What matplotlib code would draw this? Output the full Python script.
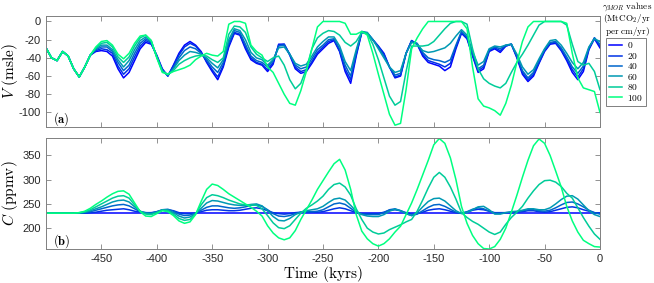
import numpy as np
import matplotlib
matplotlib.use("Agg")
from matplotlib import pyplot as plt

plt.rcParams['mathtext.fontset'] = 'cm'
plt.rcParams['font.family'] = ['Liberation Sans', 'DejaVu Sans']

# tiempo en kyrs (cada 5 kyr)
tiempo = np.arange(-500, 1, 5)

gammas = [0, 20, 40, 60, 80, 100]

inicio = [-29, -40, -43, -33, -38, -52, -61, -50, -37]

V0 = inicio + [-33, -32, -33, -38, -52, -62, -56, -43, -30, -23, -25, -37, -52, -60, -48, -35, -26, -22, -26, -33,
               -45, -55, -64, -50, -28, -13, -15, -30, -42, -46, -48, -55, -47, -25, -25, -37, -52, -57, -55, -46,
               -36, -30, -24, -21, -33, -55, -68, -38, -12, -13, -20, -27, -35, -50, -62, -60, -35, -21, -25, -38,
               -45, -47, -49, -54, -50, -30, -13, -19, -38, -56, -52, -33, -30, -34, -27, -25, -40, -58, -66, -60,
               -46, -33, -25, -24, -32, -43, -56, -64, -55, -31, -19, -29]
V20 = inicio + [-32, -30, -31, -35, -49, -58, -52, -39, -27, -21, -24, -38, -53, -60, -49, -37, -28, -24, -27, -34,
                -44, -53, -61, -48, -26, -12, -14, -28, -40, -45, -47, -53, -45, -26, -25, -36, -50, -55, -53, -44,
                -34, -28, -22, -20, -32, -52, -64, -36, -12, -13, -20, -28, -36, -50, -61, -59, -35, -21, -25, -36,
                -43, -45, -47, -50, -46, -28, -12, -18, -37, -54, -50, -32, -29, -32, -27, -25, -39, -56, -64, -58,
                -45, -32, -24, -23, -31, -41, -53, -61, -52, -30, -18, -27]
V40 = inicio + [-31, -28, -28, -33, -45, -54, -48, -35, -24, -19, -23, -38, -54, -59, -51, -40, -32, -28, -30, -35,
                -42, -50, -56, -45, -23, -10, -12, -25, -38, -43, -45, -50, -43, -27, -26, -36, -48, -52, -50, -41,
                -31, -26, -20, -19, -30, -48, -60, -34, -11, -13, -20, -28, -38, -50, -59, -57, -35, -22, -24, -34,
                -40, -42, -43, -45, -42, -26, -11, -17, -35, -52, -48, -31, -28, -30, -26, -25, -38, -54, -62, -56,
                -43, -31, -23, -22, -29, -39, -50, -57, -49, -29, -18, -25]
V60 = inicio + [-30, -26, -26, -31, -42, -50, -43, -31, -21, -17, -22, -39, -54, -59, -52, -43, -37, -33, -34, -36,
                -40, -46, -51, -42, -20, -8, -10, -20, -34, -40, -42, -48, -42, -29, -28, -36, -46, -49, -47, -38,
                -28, -22, -17, -17, -27, -44, -54, -31, -11, -12, -20, -30, -40, -50, -56, -54, -35, -23, -25, -32,
                -34, -33, -31, -29, -24, -16, -9, -15, -33, -48, -44, -30, -27, -28, -26, -25, -36, -50, -58, -53,
                -41, -30, -21, -20, -26, -35, -45, -52, -45, -28, -19, -22]
V80 = inicio + [-29, -24, -23, -28, -39, -45, -39, -27, -18, -15, -21, -39, -55, -58, -54, -47, -43, -40, -38, -37,
                -38, -42, -45, -40, -14, -5, -6, -12, -28, -36, -40, -44, -40, -38, -48, -64, -74, -68, -52, -30,
                -18, -13, -10, -11, -15, -23, -27, -22, -12, -13, -25, -42, -62, -82, -92, -88, -55, -27, -27, -27,
                -26, -22, -15, -8, -2, 0, 0, -3, -30, -52, -63, -68, -71, -73, -68, -56, -45, -36, -26, -15,
                -4, 0, 0, 0, 0, -4, -25, -44, -48, -46, -55, -75]
V100 = inicio + [-28, -22, -21, -26, -36, -41, -35, -24, -16, -15, -21, -40, -56, -58, -55, -53, -51, -48, -42, -38,
                 -35, -37, -38, -33, -3, 0, 0, -2, -26, -33, -37, -50, -56, -68, -80, -90, -92, -76, -55, -30,
                 -6, 0, 0, 0, 0, -2, -14, -14, -11, -15, -35, -58, -80, -102, -114, -112, -75, -30, -18, -8,
                 0, 0, 0, 0, 0, 0, 0, -8, -50, -85, -93, -95, -98, -103, -90, -70, -45, -22, -6, 0,
                 0, 0, 0, 0, 0, -2, -35, -62, -73, -75, -77, -100]

base = [231] * 6

C0 = [231] * 101
C20 = base + [231, 231, 232, 233, 235, 237, 238, 239, 240, 238, 235, 233, 232, 232, 234, 237, 238, 236, 232, 230,
              230, 231, 234, 237, 238, 238, 237, 236, 236, 237, 239, 241, 242, 240, 236, 232, 230, 229, 230, 232,
              233, 233, 233, 233, 234, 237, 240, 242, 240, 236, 232, 230, 230, 230, 230, 233, 237, 238, 236, 232,
              229, 230, 233, 237, 239, 240, 238, 235, 232, 231, 233, 237, 239, 238, 235, 232, 232, 232, 232, 233,
              234, 236, 236, 234, 233, 234, 237, 240, 243, 244, 242, 238, 235, 232, 231]
C40 = base + [231, 232, 234, 237, 240, 243, 246, 248, 249, 246, 240, 234, 232, 231, 234, 238, 239, 235, 229, 226,
              227, 231, 237, 243, 246, 246, 244, 242, 241, 242, 244, 247, 248, 245, 238, 230, 225, 224, 226, 230,
              233, 234, 234, 235, 238, 244, 250, 252, 249, 241, 233, 229, 228, 228, 228, 232, 238, 240, 236, 230,
              226, 229, 236, 243, 248, 249, 245, 239, 233, 231, 234, 239, 242, 240, 235, 231, 231, 232, 233, 234,
              236, 238, 238, 236, 235, 237, 242, 248, 253, 254, 250, 244, 237, 232, 229]
C60 = base + [231, 233, 236, 240, 244, 249, 254, 257, 258, 254, 244, 235, 231, 230, 233, 238, 238, 232, 225, 221,
              223, 230, 241, 252, 257, 256, 253, 250, 248, 247, 247, 249, 250, 246, 236, 224, 216, 215, 220, 228,
              233, 236, 238, 240, 245, 253, 260, 262, 258, 247, 235, 228, 225, 224, 224, 228, 235, 239, 236, 230,
              226, 232, 244, 255, 261, 262, 256, 246, 236, 230, 232, 238, 244, 245, 238, 229, 229, 232, 234, 235,
              237, 240, 240, 238, 238, 242, 250, 259, 266, 267, 260, 248, 236, 228, 224]
C80 = base + [232, 234, 238, 244, 250, 256, 262, 266, 267, 262, 248, 235, 229, 228, 232, 237, 236, 229, 220, 216,
              218, 229, 248, 263, 269, 267, 263, 258, 254, 250, 248, 248, 247, 240, 226, 211, 201, 199, 205, 218,
              231, 241, 248, 256, 266, 280, 290, 293, 285, 268, 240, 218, 200, 192, 188, 190, 197, 202, 207, 213,
              218, 235, 258, 283, 305, 315, 305, 285, 260, 232, 222, 214, 208, 200, 192, 187, 192, 208, 222, 233,
              245, 262, 277, 290, 298, 299, 295, 286, 272, 262, 242, 222, 204, 188, 177]
C100 = base + [232, 235, 241, 249, 256, 264, 271, 276, 277, 270, 252, 234, 225, 224, 230, 236, 234, 226, 215, 210,
               213, 228, 255, 280, 291, 288, 280, 271, 264, 257, 250, 243, 235, 225, 205, 190, 180, 176, 180, 195,
               218, 238, 258, 280, 298, 316, 333, 342, 320, 280, 228, 194, 178, 168, 163, 168, 178, 192, 204, 228,
               252, 280, 310, 340, 372, 385, 375, 345, 300, 245, 210, 185, 168, 158, 157, 162, 177, 200, 233, 268,
               305, 340, 370, 384, 375, 350, 318, 285, 245, 215, 192, 175, 168, 162, 161]

series_V = [V0, V20, V40, V60, V80, V100]
series_C = [C0, C20, C40, C60, C80, C100]

colores = plt.cm.winter(np.linspace(0, 1, len(gammas)))

fig = plt.figure(figsize=(6.54, 2.83), dpi=100)
ax1 = fig.add_axes([0.0703, 0.5512, 0.8471, 0.3922])
ax2 = fig.add_axes([0.0703, 0.1201, 0.8471, 0.3922])

lineas = []
for g, v, c, col in zip(gammas, series_V, series_C, colores):
    l, = ax1.plot(tiempo, v, color=col, lw=1.1)
    ax2.plot(tiempo, c, color=col, lw=1.1)
    lineas.append(l)

for ax in (ax1, ax2):
    ax.set_xlim(-500, 0)
    ax.set_xticks(np.arange(-450, 1, 50))
    ax.tick_params(direction='in', length=3.5, width=0.6, colors='#808080',
                   labelcolor='#262626', labelsize=8, top=True, right=True)
    for s in ax.spines.values():
        s.set_color('#808080')
        s.set_linewidth(0.7)

ax1.set_ylim(-116, 6)
ax1.set_yticks([0, -20, -40, -60, -80, -100])
ax1.set_yticklabels(['0', '-20', '-40', '-60', '-80', '-100'])
ax1.tick_params(labelbottom=False)
ax1.set_ylabel(r'$V\ \mathrm{(msle)}$', fontsize=11)
ax1.yaxis.set_label_coords(-0.047, 0.5)
ax1.text(0.012, 0.04, r'$\mathbf{(a)}$', transform=ax1.transAxes, fontsize=9)

ax2.set_ylim(157, 386)
ax2.set_yticks([200, 250, 300, 350])
ax2.set_xticklabels([str(t) for t in range(-450, 1, 50)])
ax2.set_ylabel(r'$C\ \mathrm{(ppmv)}$', fontsize=11)
ax2.yaxis.set_label_coords(-0.047, 0.5)
ax2.set_xlabel(r'$\mathrm{Time\ (kyrs)}$', fontsize=11, labelpad=0)
ax2.text(0.012, 0.04, r'$\mathbf{(b)}$', transform=ax2.transAxes, fontsize=9)

fig.text(0.959, 0.999, r'$\gamma_{MOR}\ \mathrm{values}$' + '\n' + r'$\mathrm{(MtCO_2/yr}$' + '\n' +
         r'$\mathrm{per\ cm/yr)}$', ha='center', va='top', fontsize=6.6, linespacing=0.93)

leg = fig.legend(lineas, [rf'${g}$' for g in gammas], loc='upper left',
                 bbox_to_anchor=(0.919, 0.884), fontsize=6.8, handlelength=1.4,
                 handletextpad=0.6, labelspacing=0.05, borderpad=0.3,
                 fancybox=False, edgecolor='#808080', framealpha=1)
leg.get_frame().set_linewidth(0.7)

plt.savefig('out.png', dpi=100)
plt.close()
